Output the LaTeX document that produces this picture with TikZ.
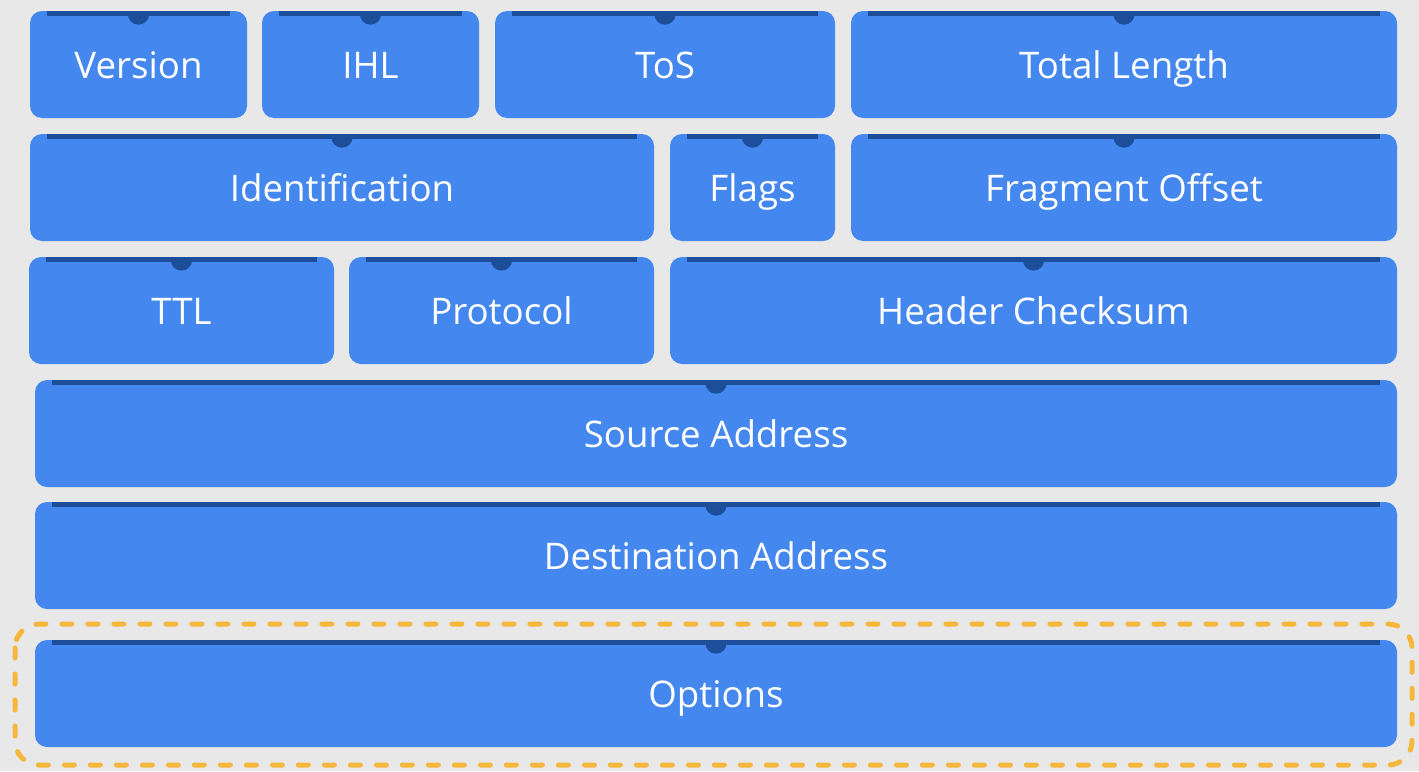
\documentclass[tikz,border=0pt]{standalone}
\usepackage{fontspec}
\setmainfont{Open Sans}
\usepackage{tikz}

\definecolor{bggray}{HTML}{E8E8E8}
\definecolor{fieldblue}{HTML}{4487EE}
\definecolor{stripblue}{HTML}{1C4E9A}
\definecolor{optorange}{HTML}{F5B73C}

\begin{document}
\begin{tikzpicture}[x=0.75pt, y=-0.75pt,
    field/.style={rectangle, fill=fieldblue, rounded corners=9pt, minimum height=80.25pt,
        inner sep=0pt, outer sep=0pt, text=white, text height=20.25pt, text depth=0pt,
        font=\fontsize{27.5}{31}\selectfont},
    strip/.style={fill=stripblue},
    optbox/.style={draw=optorange, line width=3.75pt, line cap=round,
        dash pattern=on 7.5pt off 12pt, rounded corners=18pt}]
            % background
            \fill[bggray] (0,0) rectangle (1419,771);
            \useasboundingbox (0,0) rectangle (1419,771);
            % header fields
            \foreach \name/\cx/\cy/\fw/\txt in {
                ver/138.5/64.5/217/Version, ihl/370.5/64.5/217/IHL,
                tos/665/64.5/340/ToS, len/1124/64.5/546/Total Length,
                ident/342/187.5/624/Identification, flags/752.5/187.5/165/Flags,
                frag/1124/187.5/546/Fragment Offset,
                ttl/181.5/310.5/305/TTL, proto/501.5/310.5/305/Protocol,
                csum/1033.5/310.5/727/Header Checksum,
                src/716/433.5/1362/Source Address, dst/716/555.5/1362/Destination Address,
                opt/716/693.5/1362/Options} {
                \node[field, minimum width=\fw*0.75pt] (\name) at (\cx,\cy) {\txt};
            }
            % top strips with notch
            \foreach \name in {ver,ihl,tos,len,ident,flags,frag,ttl,proto,csum,src,dst,opt} {
                \fill[strip] ([xshift=12.75pt]\name.north west) rectangle ([xshift=-12.75pt,yshift=-3.75pt]\name.north east);
                \fill[strip] ([xshift=-8pt,yshift=-2.25pt]\name.north) arc[start angle=180, end angle=360, radius=8pt] -- cycle;
            }
            % options highlight
            \draw[optbox] ([shift={(-20,-16)}]opt.north west) rectangle ([shift={(15,18)}]opt.south east);
        \end{tikzpicture}
\end{document}
